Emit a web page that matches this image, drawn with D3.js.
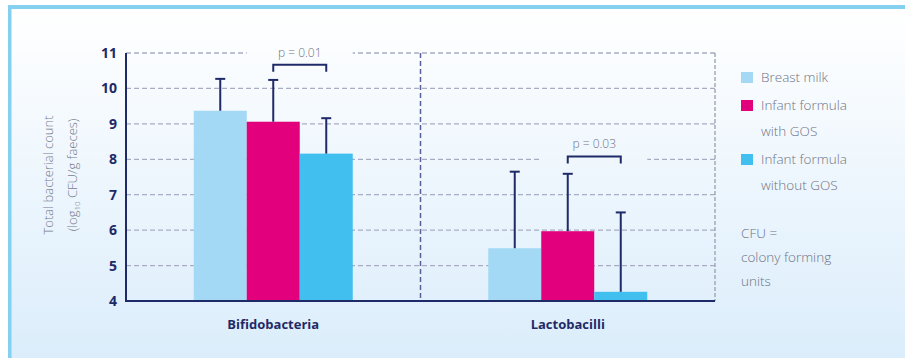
<!DOCTYPE html>
<html>
<head>
<meta charset="utf-8">
<script src="https://cdn.jsdelivr.net/npm/d3@7"></script>
<style>
  body { margin: 0; background: #fff; }
  svg { display: block; }
</style>
</head>
<body>
<div id="chart"></div>
<script>
// data
var groups = ["Bifidobacteria", "Lactobacilli"];
var seriesNames = ["Breast milk", "Infant formula with GOS", "Infant formula without GOS"];
var seriesColors = ["#a3d9f5", "#e3007c", "#41bfee"];
var means = [[9.37, 9.06, 8.16], [5.49, 5.97, 4.26]];
var errTops = [[10.27, 10.24, 9.16], [7.65, 7.59, 6.5]];
var yTicks = [4, 5, 6, 7, 8, 9, 10, 11];
var pLabels = ["p = 0.01", "p = 0.03"];
var pLevels = [10.67, 8.08];

var W = 905, H = 358;
var navy = "#1f2a68";

var svg = d3.select("#chart").append("svg")
    .attr("width", W)
    .attr("height", H);

var defs = svg.append("defs");
var grad = defs.append("linearGradient")
    .attr("id", "bg")
    .attr("gradientUnits", "userSpaceOnUse")
    .attr("x1", 0).attr("y1", 10).attr("x2", 0).attr("y2", H);
grad.append("stop").attr("offset", "0%").attr("stop-color", "#ffffff");
grad.append("stop").attr("offset", "100%").attr("stop-color", "#dbedfb");

// frame
svg.append("rect")
    .attr("x", 8).attr("y", 5)
    .attr("width", W - 8).attr("height", H - 5)
    .attr("fill", "#84d0f0");
svg.append("rect")
    .attr("x", 11.5).attr("y", 9)
    .attr("width", W - 11.5).attr("height", H - 9)
    .attr("fill", "url(#bg)");

var x0 = d3.scaleBand()
    .domain(groups)
    .range([126, 715]);

var x1 = d3.scaleBand()
    .domain(d3.range(seriesNames.length))
    .range([0, 159]);

var y = d3.scaleLinear()
    .domain([4, 11])
    .range([301, 53]);

function barX(g, i) {
  return x0(g) + (x0.bandwidth() - x1.range()[1]) / 2 + x1(i);
}
function barC(g, i) {
  return barX(g, i) + x1.bandwidth() / 2;
}

// grid lines
svg.append("g")
  .selectAll("line")
  .data(yTicks.slice(1))
  .enter()
  .append("line")
    .attr("x1", 126)
    .attr("x2", 715)
    .attr("y1", function(d) { return y(d); })
    .attr("y2", function(d) { return y(d); })
    .attr("stroke", "#a9acc2")
    .attr("stroke-width", 1.3)
    .attr("stroke-dasharray", "5,3");

// gaps in the grid behind the p value brackets
groups.forEach(function(g, gi) {
  svg.append("rect")
    .attr("x", barX(g, 1))
    .attr("width", x1.bandwidth() * 2)
    .attr("y", y(pLevels[gi]) - 17)
    .attr("height", 24)
    .attr("fill", "url(#bg)");
});

// group separator and right border
svg.append("line")
    .attr("x1", x0(groups[1])).attr("x2", x0(groups[1]))
    .attr("y1", y(11)).attr("y2", y(4))
    .attr("stroke", "#58609a")
    .attr("stroke-width", 1.5)
    .attr("stroke-dasharray", "5,3");
svg.append("line")
    .attr("x1", 715).attr("x2", 715)
    .attr("y1", y(11)).attr("y2", y(4))
    .attr("stroke", "#9a9db0")
    .attr("stroke-width", 1.3)
    .attr("stroke-dasharray", "4,2");

// bars
groups.forEach(function(g, gi) {
  svg.append("g")
    .selectAll("rect")
    .data(means[gi])
    .enter()
    .append("rect")
      .attr("x", function(d, i) { return barX(g, i); })
      .attr("width", x1.bandwidth())
      .attr("y", function(d) { return y(d); })
      .attr("height", function(d) { return y(4) - y(d); })
      .attr("fill", function(d, i) { return seriesColors[i]; });

  var eb = svg.append("g")
    .attr("stroke", navy)
    .attr("stroke-width", 2);
  errTops[gi].forEach(function(t, i) {
    var cx = barC(g, i);
    eb.append("line")
      .attr("x1", cx).attr("x2", cx)
      .attr("y1", y(means[gi][i])).attr("y2", y(t));
    eb.append("line")
      .attr("x1", cx - 5).attr("x2", cx + 5)
      .attr("y1", y(t)).attr("y2", y(t));
  });

  // significance bracket between the two formula bars
  var bx1 = barC(g, 1), bx2 = barC(g, 2), by = y(pLevels[gi]);
  svg.append("path")
    .attr("d", "M" + bx1 + "," + (by + 7) + "V" + by + "H" + bx2 + "V" + (by + 7))
    .attr("fill", "none")
    .attr("stroke", navy)
    .attr("stroke-width", 2);
  svg.append("text")
    .attr("x", (bx1 + bx2) / 2)
    .attr("y", by - 8)
    .attr("text-anchor", "middle")
    .attr("font-family", "'Open Sans', sans-serif")
    .attr("font-weight", 300)
    .attr("font-size", "12px")
    .attr("fill", "#6f7385")
    .text(pLabels[gi]);
});

// axes
svg.append("line")
    .attr("x1", 126).attr("x2", 126)
    .attr("y1", y(11)).attr("y2", y(4))
    .attr("stroke", navy).attr("stroke-width", 2);
svg.append("line")
    .attr("x1", 125).attr("x2", 715)
    .attr("y1", y(4)).attr("y2", y(4))
    .attr("stroke", navy).attr("stroke-width", 2);

svg.append("g")
  .selectAll("text")
  .data(yTicks)
  .enter()
  .append("text")
    .attr("x", 117)
    .attr("y", function(d) { return y(d); })
    .attr("dy", "0.36em")
    .attr("text-anchor", "end")
    .attr("font-family", "'Open Sans', sans-serif")
    .attr("font-weight", 700)
    .attr("font-size", "14px")
    .attr("fill", navy)
    .text(function(d) { return d; });

svg.append("g")
  .selectAll("text")
  .data(groups)
  .enter()
  .append("text")
    .attr("x", function(d) { return x0(d) + x0.bandwidth() / 2; })
    .attr("y", 329)
    .attr("text-anchor", "middle")
    .attr("font-family", "'Open Sans', sans-serif")
    .attr("font-weight", 700)
    .attr("font-size", "13px")
    .attr("fill", navy)
    .text(function(d) { return d; });

// y axis title
var yt = svg.append("text")
    .attr("transform", "translate(53," + 175 + ")rotate(-90)")
    .attr("text-anchor", "middle")
    .attr("font-family", "'Open Sans', sans-serif")
    .attr("font-weight", 300)
    .attr("font-size", "13px")
    .attr("fill", "#777b8c");
yt.append("tspan").attr("x", 0).attr("y", 0).text("Total bacterial count");
var l2 = yt.append("tspan").attr("x", 0).attr("y", 24);
l2.append("tspan").text("(log");
l2.append("tspan").attr("font-size", "8px").attr("dy", 3).text("10");
l2.append("tspan").attr("dy", -3).text(" CFU/g faeces)");

// legend
var legendLines = [["Breast milk"], ["Infant formula", "with GOS"], ["Infant formula", "without GOS"]];
var legendY = [82, 110, 164];
var legend = svg.append("g")
    .attr("font-family", "'Open Sans', sans-serif")
    .attr("font-weight", 300)
    .attr("font-size", "13.5px")
    .attr("fill", "#6f7385");
legendLines.forEach(function(lines, i) {
  legend.append("rect")
    .attr("x", 741).attr("y", legendY[i] - 10)
    .attr("width", 12).attr("height", 11)
    .attr("fill", seriesColors[i]);
  lines.forEach(function(t, j) {
    legend.append("text")
      .attr("x", 761)
      .attr("y", legendY[i] + j * 26)
      .text(t);
  });
});

var noteLines = ["CFU =", "colony forming", "units"];
legend.selectAll(".note")
  .data(noteLines)
  .enter()
  .append("text")
    .attr("class", "note")
    .attr("x", 741)
    .attr("y", function(d, i) { return 238 + i * 24; })
    .text(function(d) { return d; });
</script>
</body>
</html>
